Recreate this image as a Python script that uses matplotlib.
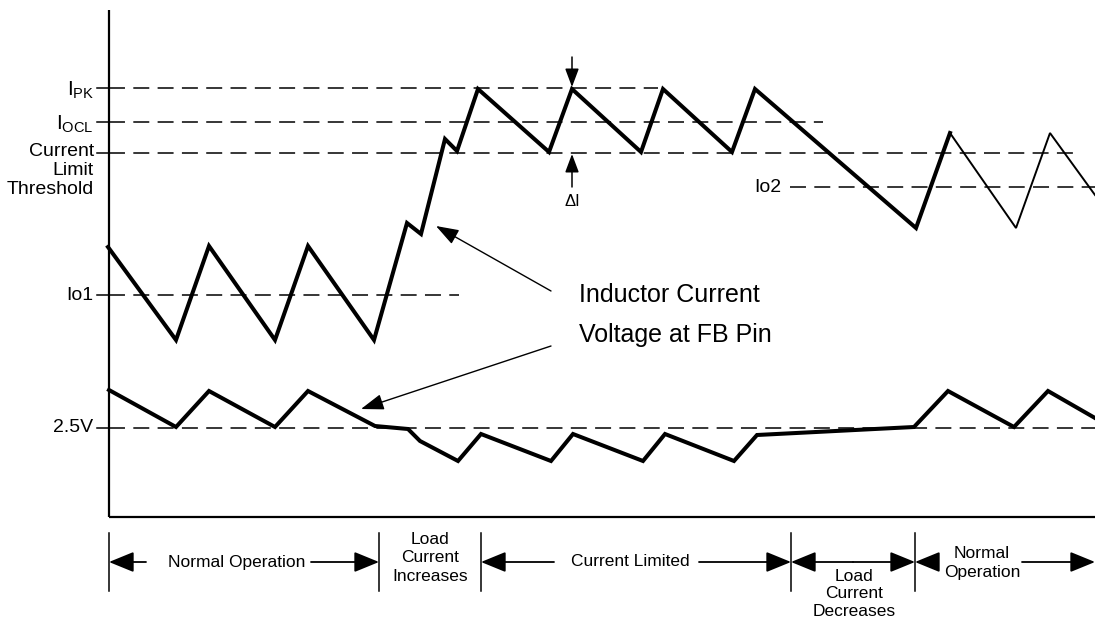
import matplotlib
matplotlib.use('Agg')
import matplotlib.pyplot as plt

plt.rcParams['font.family'] = ['Liberation Sans', 'DejaVu Sans']
plt.rcParams['mathtext.fontset'] = 'custom'
plt.rcParams['mathtext.rm'] = 'Liberation Sans'
plt.rcParams['mathtext.it'] = 'Liberation Sans'
plt.rcParams['lines.scale_dashes'] = False

# waveform vertices (time, level) -- level grows downward on this sketch
t_il = [108, 176, 209, 275, 308, 374, 407, 421, 445, 457, 478, 549, 572, 641, 663, 732, 755, 916, 950]
il = [247, 340, 246, 340, 246, 340, 223, 234, 139, 151, 89, 152, 89, 152, 89, 152, 89, 228, 133]
t_il_thin = [950, 1016, 1050, 1095]
il_thin = [133, 228, 133, 195]

t_fb = [109, 176, 209, 275, 308, 375, 408, 420, 458, 481, 551, 573, 643, 665, 734, 757, 914, 948, 1014, 1048, 1095]
fb = [390, 427, 391, 427, 391, 426, 429, 441, 461, 434, 461, 434, 461, 434, 461, 435, 427, 391, 427, 391, 418]

# reference levels: label, level, end of dashed line
level_names = [r'$\mathregular{I_{PK}}$', r'$\mathregular{I_{OCL}}$', 'Current\nLimit\nThreshold', 'Io1', '2.5V']
level_vals = [88, 122, 153, 295, 428]
level_ends = [658, 823, 1073, 459, 1095]
io2_level = 187

# operating phases along the time axis
phase_edges = [109, 379, 481, 791, 915, 1095]
phase_names = ['Normal Operation', 'Load\nCurrent\nIncreases', 'Current Limited',
               'Load\nCurrent\nDecreases', 'Normal\nOperation']

fig = plt.figure(figsize=(10.95, 6.19), dpi=100)
ax = fig.add_axes([0, 0, 1, 1])
ax.set_xlim(0, 1095)
ax.set_ylim(619, 0)
ax.axis('off')

# axes frame
ax.plot([109, 109], [10, 517], color='black', lw=1.6, solid_capstyle='butt')
ax.plot([109, 1095], [517, 517], color='black', lw=1.6, solid_capstyle='butt')

# dashed levels + ticks + labels
for name, v, end in zip(level_names, level_vals, level_ends):
    ax.plot([109, end], [v, v], color='black', lw=1.1, dashes=(11.5, 6))
    ax.plot([97, 109], [v, v], color='black', lw=1.1)
    if '\n' in name:
        ax.text(94, v - 10, name, ha='right', va='top', fontsize=14, linespacing=1.15)
    elif name.startswith('$'):
        ax.text(94, v + 2, name, ha='right', va='center', fontsize=15)
    else:
        ax.text(93, v, name, ha='right', va='center', fontsize=14)

ax.plot([790, 1095], [io2_level, io2_level], color='black', lw=1.1, dashes=(11.5, 6))
ax.text(781, io2_level, 'Io2', ha='right', va='center', fontsize=14)

# waveforms
ax.plot(t_il, il, color='black', lw=2.9, solid_joinstyle='miter')
ax.plot(t_il_thin, il_thin, color='black', lw=1.4, solid_joinstyle='miter')
ax.plot(t_fb, fb, color='black', lw=2.9, solid_joinstyle='miter')

# delta-I markers
head = dict(arrowstyle='-|>,head_length=0.8,head_width=0.3', color='black', lw=1.1,
            mutation_scale=14, shrinkA=0, shrinkB=0)
ax.annotate('', xy=(572, 87), xytext=(572, 57), arrowprops=head)
ax.annotate('', xy=(572, 154), xytext=(572, 187), arrowprops=head)
ax.text(572, 201, 'ΔI', ha='center', va='center', fontsize=12)

# callouts
call = dict(arrowstyle='-|>,head_length=1.0,head_width=0.35', color='black', lw=1.0,
            mutation_scale=14, shrinkA=0, shrinkB=0)
ax.annotate('', xy=(436, 226), xytext=(551, 291), arrowprops=call)
ax.annotate('', xy=(361, 409), xytext=(551, 346), arrowprops=call)
ax.text(579, 295, 'Inductor Current', ha='left', va='center', fontsize=18)
ax.text(579, 335, 'Voltage at FB Pin', ha='left', va='center', fontsize=18)

# phase bar
for x in phase_edges[:-1]:
    ax.plot([x, x], [533, 591], color='black', lw=1.1)

bar = dict(arrowstyle='-|>,head_length=1.1,head_width=0.45', color='black', lw=1.3,
           mutation_scale=14, shrinkA=0, shrinkB=0)
y_bar = 562
# Normal Operation
ax.annotate('', xy=(109, y_bar), xytext=(146, y_bar), arrowprops=bar)
ax.annotate('', xy=(379, y_bar), xytext=(311, y_bar), arrowprops=bar)
ax.text(237, y_bar, phase_names[0], ha='center', va='center', fontsize=12.5)
# Load Current Increases
ax.text(430, 558, phase_names[1], ha='center', va='center', fontsize=12.5, linespacing=1.3)
# Current Limited
ax.annotate('', xy=(481, y_bar), xytext=(554, y_bar), arrowprops=bar)
ax.annotate('', xy=(791, y_bar), xytext=(699, y_bar), arrowprops=bar)
ax.text(630, y_bar, phase_names[2], ha='center', va='center', fontsize=12.5)
# Load Current Decreases
ax.annotate('', xy=(791, y_bar), xytext=(853, y_bar), arrowprops=bar)
ax.annotate('', xy=(915, y_bar), xytext=(853, y_bar), arrowprops=bar)
ax.text(854, 594, phase_names[3], ha='center', va='center', fontsize=12.5, linespacing=1.2)
# Normal Operation (end)
ax.annotate('', xy=(915, y_bar), xytext=(938, y_bar), arrowprops=bar)
ax.annotate('', xy=(1095, y_bar), xytext=(1022, y_bar), arrowprops=bar)
ax.text(982, 563, phase_names[4], ha='center', va='center', fontsize=12.5, linespacing=1.3)

fig.savefig('out.png', dpi=100, facecolor='white')
